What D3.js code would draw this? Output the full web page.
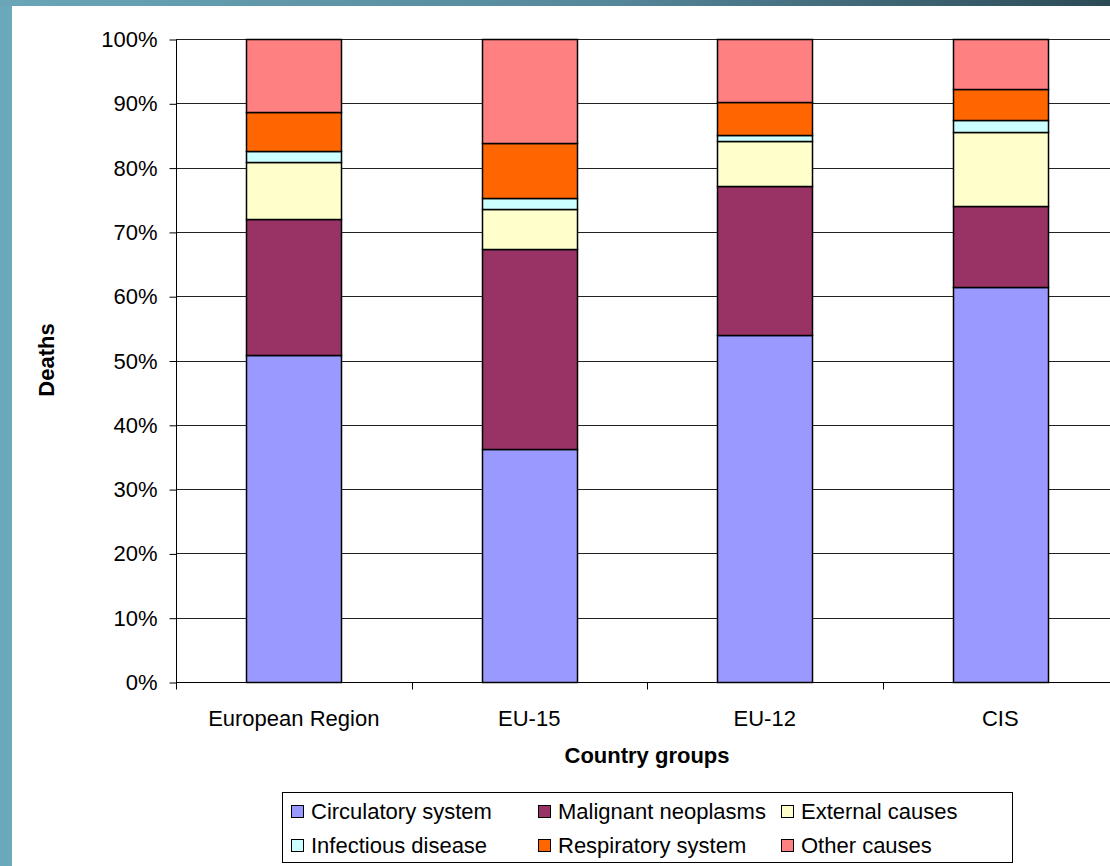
<!DOCTYPE html>
<html>
<head>
<meta charset="utf-8">
<script src="https://cdn.jsdelivr.net/npm/d3@7"></script>
<style>
  body { margin: 0; padding: 0; overflow: hidden; }
  svg { display: block; font-family: "Liberation Sans", Arial, sans-serif; }
</style>
</head>
<body>
<div id="main"></div>
<script>
// data (percent of deaths)
var categories = ["European Region", "EU-15", "EU-12", "CIS"];
var causes = ["Circulatory system", "Malignant neoplasms", "External causes",
              "Infectious disease", "Respiratory system", "Other causes"];
var circulatory = [50.9, 36.2, 54.0, 61.4];
var malignant   = [21.1, 31.1, 23.1, 12.6];
var external    = [8.9, 6.3, 7.0, 11.5];
var infectious  = [1.7, 1.7, 1.0, 1.9];
var respiratory = [6.0, 8.5, 5.1, 4.8];
var other       = [11.4, 16.2, 9.8, 7.8];
var yTicks = [0, 10, 20, 30, 40, 50, 60, 70, 80, 90, 100];
var colors = ["#9999FF", "#993366", "#FFFFCC", "#CCFFFF", "#FF6600", "#FF8080"];

var WIDTH = 1110, HEIGHT = 866;

var svg = d3.select("#main").append("svg")
	.attr("width", WIDTH)
	.attr("height", HEIGHT);

// backdrop of the slide
var defs = svg.append("defs");
var grad = defs.append("linearGradient").attr("id", "bg")
	.attr("x1", "0%").attr("x2", "100%").attr("y1", "0%").attr("y2", "0%");
grad.append("stop").attr("offset", "0%").attr("stop-color", "#6aa6b8");
grad.append("stop").attr("offset", "55%").attr("stop-color", "#55879a");
grad.append("stop").attr("offset", "100%").attr("stop-color", "#2c4a56");
svg.append("rect").attr("width", WIDTH).attr("height", HEIGHT).attr("fill", "url(#bg)");
svg.append("rect").attr("x", 0).attr("y", 6).attr("width", 12).attr("height", HEIGHT)
	.attr("fill", "#6aa8bb");
svg.append("rect").attr("x", 12).attr("y", 6).attr("width", WIDTH - 12).attr("height", HEIGHT - 6)
	.attr("fill", "#fff");

var rows = categories.map(function(c, i) {
	return {cat: c, "Circulatory system": circulatory[i], "Malignant neoplasms": malignant[i],
		"External causes": external[i], "Infectious disease": infectious[i],
		"Respiratory system": respiratory[i], "Other causes": other[i]};
});
var stack = d3.stack().keys(causes)(rows);

var x = d3.scaleBand().domain(categories).range([176, 1118]).padding(0);
var y = d3.scaleLinear().domain([0, 100]).range([682, 39]);
var color = d3.scaleOrdinal().domain(causes).range(colors);
var barW = 95;

// gridlines
svg.append("g").selectAll("line").data(yTicks.slice(1)).join("line")
	.attr("x1", 176).attr("x2", WIDTH)
	.attr("y1", function(d) { return Math.round(y(d)) + 0.5; })
	.attr("y2", function(d) { return Math.round(y(d)) + 0.5; })
	.attr("stroke", "#222").attr("stroke-width", 1);

// bars
svg.append("g").selectAll("g").data(stack).join("g")
	.attr("fill", function(d) { return color(d.key); })
	.selectAll("rect").data(function(d) { return d; }).join("rect")
		.attr("x", function(d) { return Math.round(x(d.data.cat) + x.bandwidth() / 2 - barW / 2) + 0.5; })
		.attr("y", function(d) { return Math.round(y(d[1])) + 0.5; })
		.attr("width", barW)
		.attr("height", function(d) { return Math.round(y(d[0])) - Math.round(y(d[1])); })
		.attr("stroke", "#000").attr("stroke-width", 1.5);

// y axis
var yAxis = svg.append("g").attr("transform", "translate(176.5,0.5)")
	.call(d3.axisLeft(y).tickValues(yTicks).tickSize(7).tickPadding(12)
		.tickFormat(function(d) { return d + "%"; }));
yAxis.selectAll("text").attr("font-size", 22).attr("fill", "#000").attr("font-family", "Liberation Sans, Arial");
yAxis.select(".domain").attr("d", "M0," + Math.round(y(100)) + "V" + Math.round(y(0)));
yAxis.selectAll("line").attr("stroke", "#000");

// x axis
var xAxis = svg.append("g").attr("transform", "translate(0," + (Math.round(y(0)) + 0.5) + ")");
xAxis.append("line").attr("x1", 176).attr("x2", WIDTH).attr("stroke", "#000");
xAxis.selectAll("line.tick").data(categories).join("line").attr("class", "tick")
	.attr("x1", function(d) { return Math.round(x(d)) + 0.5; })
	.attr("x2", function(d) { return Math.round(x(d)) + 0.5; })
	.attr("y1", 0).attr("y2", 7).attr("stroke", "#000");
xAxis.selectAll("text").data(categories).join("text")
	.attr("x", function(d) { return x(d) + x.bandwidth() / 2; })
	.attr("y", 43)
	.attr("text-anchor", "middle")
	.attr("font-size", 22)
	.text(function(d) { return d; });

// axis titles
svg.append("text").attr("x", 647).attr("y", 763)
	.attr("text-anchor", "middle").attr("font-size", 22).attr("font-weight", "bold")
	.text("Country groups");
svg.append("text").attr("transform", "translate(54,360) rotate(-90)")
	.attr("text-anchor", "middle").attr("font-size", 22).attr("font-weight", "bold")
	.text("Deaths");

// legend
var legend = svg.append("g");
legend.append("rect").attr("x", 282.5).attr("y", 792.5).attr("width", 730).attr("height", 70)
	.attr("fill", "#fff").attr("stroke", "#000").attr("stroke-width", 1);
var colX = [291, 538, 781];
var rowY = [811, 845];
var items = legend.selectAll("g").data(causes).join("g")
	.attr("transform", function(d, i) { return "translate(" + colX[i % 3] + "," + rowY[Math.floor(i / 3)] + ")"; });
items.append("rect").attr("x", 0.5).attr("y", -5.5).attr("width", 12).attr("height", 12)
	.attr("fill", function(d) { return color(d); }).attr("stroke", "#000").attr("stroke-width", 1);
items.append("text").attr("x", 20).attr("y", 8).attr("font-size", 22)
	.text(function(d) { return d; });
</script>
</body>
</html>
